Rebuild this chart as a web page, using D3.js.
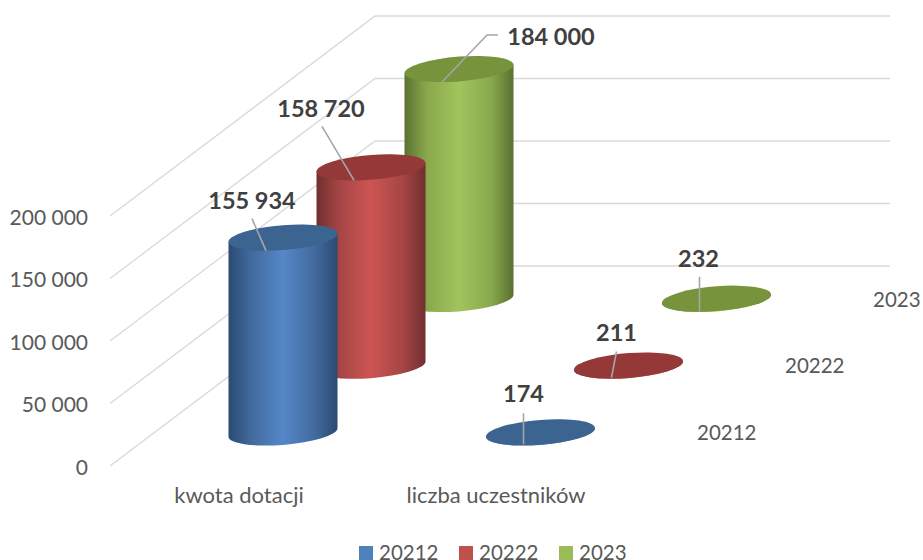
<!DOCTYPE html>
<html>
<head>
<meta charset="utf-8">
<script src="https://cdn.jsdelivr.net/npm/d3@7"></script>
<style>
html, body { margin: 0; padding: 0; background: #fff; overflow: hidden; }
text { font-family: Lato, "Open Sans", sans-serif; }
</style>
</head>
<body>
<script>
var categories = ["kwota dotacji", "liczba uczestników"];
var seriesNames = ["20212", "20222", "2023"];
var kwotaValues = [155934, 158720, 184000];
var uczestnicyValues = [174, 211, 232];
var valueTicks = [0, 50000, 100000, 150000, 200000];

var width = 923, height = 560;

// colours per series: edge, mid, centre of the cylinder wall, top cap, legend swatch
var palette = {
    "20212": ["#2b4a72", "#41699c", "#5587c8", "#3c6491", "#4f81bd"],
    "20222": ["#702f2e", "#a34544", "#cd5552", "#943938", "#c0504d"],
    "2023": ["#5a7030", "#88a84c", "#a2c45c", "#77933c", "#9bbb59"]
};

var rx = 54.5, ry = 12.4, skew = -0.077;

var svg = d3.select("body")
.append("svg")
.attr("width", width)
.attr("height", height)
.attr("id","svg");

var defs = svg.append("defs");

seriesNames.forEach(function(s, i){
    var c = palette[s];
    var g = defs.append("linearGradient")
        .attr("id", "wall" + i)
        .attr("x1", 0).attr("x2", 1).attr("y1", 0).attr("y2", 0);
    [[0, c[0]], [0.2, c[1]], [0.5, c[2]], [0.8, c[1]], [1, c[0]]].forEach(function(st){
        g.append("stop").attr("offset", st[0]).attr("stop-color", st[1]);
    });
});

// value axis on the front edge of the floor
var valueY = d3.scaleLinear().domain([0, 200000]).range([466, 216]);
var heightOf = function(v){ return valueY(0) - valueY(v); };

// depth runs back along the side wall
var depthX = d3.scaleLinear().domain([0, 1]).range([110, 375]);
var depthY = d3.scaleLinear().domain([0, 1]).range([0, -200]);
var backRight = 890;

// bar base positions
var catX = d3.scalePoint().domain(categories).range([283, 540.5]);
var serDX = d3.scalePoint().domain(seriesNames).range([0, 176]);
var serY = d3.scalePoint().domain(seriesNames).range([432.5, 299]);

// gridlines
var grid = svg.append("g").attr("class", "grid");
valueTicks.forEach(function(v){
    var line = d3.line();
    grid.append("path")
        .attr("d", line([
            [depthX(0), valueY(v) + depthY(0)],
            [depthX(1), valueY(v) + depthY(1)],
            [backRight, valueY(v) + depthY(1)]
        ]))
        .attr("fill", "none")
        .attr("stroke", "#d9d9d9")
        .attr("stroke-width", 1.3);
});

// value axis
var spaced = d3.formatLocale({decimal: ",", thousands: " ", grouping: [3], currency: ["", ""]}).format(",d");
var axis = svg.append("g")
    .attr("transform", "translate(88,1.5)")
    .call(d3.axisLeft(valueY).tickValues(valueTicks).tickFormat(spaced).tickSize(0).tickPadding(0));
axis.select(".domain").remove();
axis.selectAll("text")
    .style("font-family", "Lato")
    .style("font-size", "21px")
    .attr("fill", "#595959");

// category labels
svg.selectAll(".catLabel")
.data(categories)
.enter().append("text")
.attr("class", "catLabel")
.attr("x", function(d, i){ return [239, 496][i]; })
.attr("y", 503)
.attr("text-anchor", "middle")
.attr("font-size", 22)
.attr("fill", "#595959")
.text(function(d){ return d; });

// series labels along the depth axis
svg.selectAll(".serLabel")
.data(seriesNames)
.enter().append("text")
.attr("class", "serLabel")
.attr("x", function(d){ return 697 + serDX(d); })
.attr("y", function(d){ return serY(d) + 7.5; })
.attr("font-size", 20.5)
.attr("fill", "#595959")
.text(function(d){ return d; });

// one cylinder per category and series, back to front
var bars = [];
seriesNames.forEach(function(s, i){
    bars.push({series: s, si: i, category: categories[0], value: kwotaValues[i]});
    bars.push({series: s, si: i, category: categories[1], value: uczestnicyValues[i]});
});
bars.sort(function(a, b){ return b.si - a.si; });

var cyl = svg.selectAll(".cyl")
.data(bars)
.enter().append("g")
.attr("class", "cyl")
.attr("transform", function(d){
    var cx = catX(d.category) + serDX(d.series);
    var cy = serY(d.series) - heightOf(d.value);
    return "matrix(1," + skew + ",0,1," + cx + "," + cy + ")";
});

cyl.append("path")
.attr("d", function(d){
    var h = heightOf(d.value);
    return "M" + (-rx) + ",0L" + (-rx) + "," + h
        + "A" + rx + "," + ry + " 0 0 0 " + rx + "," + h
        + "L" + rx + ",0Z";
})
.attr("fill", function(d){ return "url(#wall" + d.si + ")"; });

cyl.append("ellipse")
.attr("rx", rx)
.attr("ry", ry)
.attr("fill", function(d){ return palette[d.series][3]; });

// data labels, offsets from the cap centre
var labelLayout = {
    "kwota dotacji|20212": {dx: -31, dy: -37, leader: [[-31, -19], [-17, 13]]},
    "kwota dotacji|20222": {dx: -50, dy: -58, leader: [[-49, -41], [-17, 13]]},
    "kwota dotacji|2023": {dx: 92, dy: -32, leader: [[39, -34], [28, -34], [-17, 13]]},
    "liczba uczestników|20212": {dx: -17, dy: -38, leader: [[-17, -19], [-17, 12]]},
    "liczba uczestników|20222": {dx: -12, dy: -32, leader: [[-12, -14], [-17, 12]]},
    "liczba uczestników|2023": {dx: -18, dy: -40, leader: [[-17, -22], [-17, 13]]}
};

var labelled = svg.selectAll(".dataLabel")
.data(bars)
.enter().append("g")
.attr("class", "dataLabel")
.attr("transform", function(d){
    var cx = catX(d.category) + serDX(d.series);
    var cy = serY(d.series) - heightOf(d.value);
    return "translate(" + cx + "," + cy + ")";
});

labelled.append("path")
.attr("d", function(d){ return d3.line()(labelLayout[d.category + "|" + d.series].leader); })
.attr("fill", "none")
.attr("stroke", "#a6a6a6")
.attr("stroke-width", 1.6);

labelled.append("text")
.attr("x", function(d){ return labelLayout[d.category + "|" + d.series].dx; })
.attr("y", function(d){ return labelLayout[d.category + "|" + d.series].dy + 8; })
.attr("text-anchor", "middle")
.attr("font-size", 23.5)
.attr("font-weight", "bold")
.attr("fill", "#404040")
.text(function(d){ return spaced(d.value); });

// legend
var legendX = d3.scaleOrdinal().domain(seriesNames).range([359, 459, 559]);
var legend = svg.selectAll(".legendItem")
.data(seriesNames)
.enter().append("g")
.attr("class", "legendItem")
.attr("transform", function(d){ return "translate(" + legendX(d) + ",546)"; });

legend.append("rect")
.attr("width", 14)
.attr("height", 14)
.attr("fill", function(d){ return palette[d][4]; });

legend.append("text")
.attr("x", 20)
.attr("y", 13.5)
.attr("font-size", 20.5)
.attr("fill", "#595959")
.text(function(d){ return d; });
</script>
</body>
</html>
